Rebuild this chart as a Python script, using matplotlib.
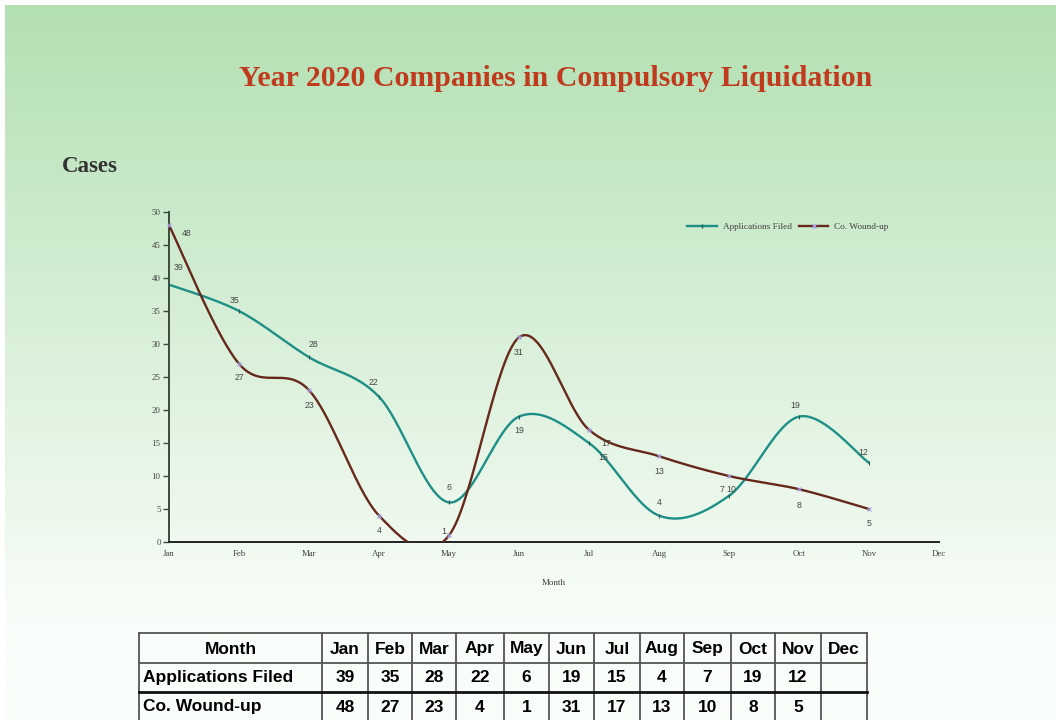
import numpy as np
import matplotlib
matplotlib.use("Agg")
import matplotlib.pyplot as plt
from matplotlib.lines import Line2D

months = ["Jan", "Feb", "Mar", "Apr", "May", "Jun", "Jul", "Aug", "Sep", "Oct", "Nov", "Dec"]
applications = [39, 35, 28, 22, 6, 19, 15, 4, 7, 19, 12]
wound_up = [48, 27, 23, 4, 1, 31, 17, 13, 10, 8, 5]
series_names = ["Applications Filed", "Co. Wound-up"]
title = "Year 2020 Companies in Compulsory Liquidation"

# label offsets in pixels (dx, dy) relative to data point (positive dy = up)
app_offsets = [(10, 17), (-4, 11), (4, 13), (-6, 14), (0, 15), (0, -14), (14, -14),
               (0, 13), (-7, 6), (-4, 11), (-6, 10)]
wu_offsets = [(18, -8), (0, -14), (0, -15), (0, -15), (-5, 4), (0, -15), (17, -14),
              (0, -15), (2, -14), (0, -16), (0, -15)]

W, H = 1056, 720
fig = plt.figure(figsize=(W / 100, H / 100), dpi=100)
fig.patch.set_facecolor("white")

# gradient background panel
bg = fig.add_axes([5 / W, 0, (W - 5) / W, (H - 5) / H])
bg.set_axis_off()
n = 400
tt = np.linspace(0, 1, n)
top = np.array([179, 224, 179]) / 255
bot = np.array([249, 253, 249]) / 255
frac = np.clip(tt / 0.86, 0, 1)
grad = top[None, :] * (1 - frac[:, None]) + bot[None, :] * frac[:, None]
grad = np.repeat(grad[:, None, :], 4, axis=1)
bg.imshow(grad, aspect="auto", extent=[0, 1, 0, 1], origin="upper")
bg.set_xlim(0, 1)
bg.set_ylim(0, 1)


def px_axes(x0, y0, x1, y1):
    return [x0 / W, 1 - y1 / H, (x1 - x0) / W, (y1 - y0) / H]


def cr_spline(xs, ys, n=60):
    P = np.column_stack([xs, ys]).astype(float)
    out = []
    for i in range(len(P) - 1):
        p0 = P[i - 1] if i > 0 else P[i]
        p1 = P[i]
        p2 = P[i + 1]
        p3 = P[i + 2] if i + 2 < len(P) else P[i + 1]
        c1 = p1 + (p2 - p0) / 6
        c2 = p2 - (p3 - p1) / 6
        t = np.linspace(0, 1, n)[:, None]
        seg = (1 - t) ** 3 * p1 + 3 * (1 - t) ** 2 * t * c1 + 3 * (1 - t) * t ** 2 * c2 + t ** 3 * p2
        out.append(seg if i == 0 else seg[1:])
    return np.vstack(out)


ax = fig.add_axes(px_axes(169, 212, 939, 542))
ax.set_facecolor("none")
ax.set_xlim(0, len(months) - 1)
ax.set_ylim(0, 50)

teal = "#1e8f86"
brown = "#66281a"
lav = "#a89ee6"

xa = np.arange(len(applications))
xw = np.arange(len(wound_up))
sa = cr_spline(xa, applications)
sw = cr_spline(xw, wound_up)
ax.plot(sa[:, 0], sa[:, 1], color=teal, lw=1.7, solid_capstyle="round", zorder=3)
ax.plot(sw[:, 0], sw[:, 1], color=brown, lw=1.7, solid_capstyle="round", zorder=3)
ax.plot(xa, applications, ls="none", marker="|", ms=3, mew=0.8, color="#245a55", zorder=4, clip_on=False)
ax.plot(xw, wound_up, ls="none", marker="x", ms=3, mew=0.8, color=lav, zorder=4, clip_on=False)

for x, v, (dx, dy) in zip(xa, applications, app_offsets):
    ax.annotate(str(v), (x, v), xytext=(dx, dy), textcoords="offset pixels",
                ha="center", va="center", fontsize=6.3, color="#454545",
                family="Liberation Sans", annotation_clip=False)
for x, v, (dx, dy) in zip(xw, wound_up, wu_offsets):
    ax.annotate(str(v), (x, v), xytext=(dx, dy), textcoords="offset pixels",
                ha="center", va="center", fontsize=6.3, color="#454545",
                family="Liberation Sans", annotation_clip=False)

ax.set_xticks(np.arange(len(months)))
ax.set_xticklabels(months)
ax.set_yticks(np.arange(0, 51, 5))
for s in ["top", "right"]:
    ax.spines[s].set_visible(False)
ax.spines["left"].set_color("#3c4a3c")
ax.spines["bottom"].set_color("#222222")
ax.spines["left"].set_linewidth(1.4)
ax.spines["bottom"].set_linewidth(1.4)
ax.tick_params(axis="y", direction="out", length=4, width=1, color="#3c4a3c", pad=2,
               labelsize=6.3, labelcolor="#404040")
ax.tick_params(axis="x", length=0, pad=6, labelsize=6.3, labelcolor="#404040")
for lab in ax.get_xticklabels() + ax.get_yticklabels():
    lab.set_family("Liberation Serif")
ax.set_xlabel("Month", fontsize=6.5, family="Liberation Serif", color="#404040", labelpad=15)

handles = [Line2D([], [], color=teal, lw=1.7, marker="|", ms=3, mec="#245a55"),
           Line2D([], [], color=brown, lw=1.7, marker="x", ms=3, mec=lav)]
leg = fig.legend(handles, series_names, loc="center left",
                 bbox_to_anchor=(679 / W, 1 - 227 / H), ncol=2, frameon=False,
                 prop={"family": "Liberation Serif", "size": 6.7},
                 handlelength=3.2, handletextpad=0.6, columnspacing=0.75)
for t in leg.get_texts():
    t.set_color("#404040")

fig.text(556 / W, 1 - 78 / H, title, ha="center", va="center", fontsize=21.5,
         fontweight="bold", family="Liberation Serif", color="#c03a1e")
fig.text(62 / W, 1 - 167 / H, "Cases", ha="left", va="center", fontsize=16.5,
         fontweight="bold", family="Liberation Serif", color="#333333")

# data table
tab = fig.add_axes([0, 0, 1, 1])
tab.set_axis_off()
tab.set_xlim(0, W)
tab.set_ylim(H, 0)
col_edges = [139, 322, 368, 412, 456, 504, 549, 594, 640, 684, 731, 775, 821, 867]
row_edges = [633, 663, 692, 724]
rows = [["Month"] + months,
        [series_names[0]] + [str(v) for v in applications] + [""] * (len(months) - len(applications)),
        [series_names[1]] + [str(v) for v in wound_up] + [""] * (len(months) - len(wound_up))]
for xe in col_edges:
    tab.plot([xe, xe], [row_edges[0], row_edges[-1]], color="#555555", lw=1.3, clip_on=False)
tab.plot([col_edges[0], col_edges[-1]], [row_edges[0]] * 2, color="#555555", lw=1.3)
tab.plot([col_edges[0], col_edges[-1]], [row_edges[1]] * 2, color="#555555", lw=1.3)
tab.plot([col_edges[0], col_edges[-1]], [row_edges[2]] * 2, color="#111111", lw=2.0)
for r, row in enumerate(rows):
    yc = (row_edges[r] + row_edges[r + 1]) / 2 + (1 if r == 0 else (0 if r == 1 else -1))
    for c, txt in enumerate(row):
        if c == 0 and r > 0:
            tab.text(col_edges[0] + 4, yc, txt, ha="left", va="center", fontsize=12.5,
                     fontweight="bold", family="Liberation Sans", color="black")
        else:
            xc = (col_edges[c] + col_edges[c + 1]) / 2
            tab.text(xc, yc, txt, ha="center", va="center", fontsize=12.5,
                     fontweight="bold", family="Liberation Sans", color="black")

fig.savefig("out.png", dpi=100)
